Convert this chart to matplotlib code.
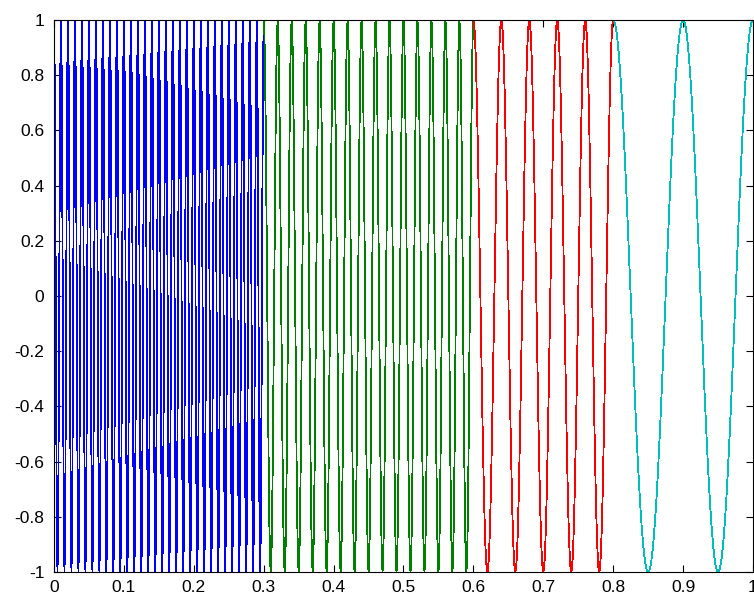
import numpy as np
import matplotlib
matplotlib.use("Agg")
import matplotlib.pyplot as plt
from matplotlib.ticker import FormatStrFormatter

# sample rate and piecewise segments (start, end, frequency in Hz)
fs = 1000
seg_start = [0.0, 0.3, 0.6, 0.8]
seg_end = [0.3, 0.6, 0.8, 1.0]
seg_freq = [100, 50, 25, 10]
seg_color = ['#0000ff', '#008000', '#ff0000', '#00bfbf']

xticks = [0, 0.1, 0.2, 0.3, 0.4, 0.5, 0.6, 0.7, 0.8, 0.9, 1]
yticks = [-1, -0.8, -0.6, -0.4, -0.2, 0, 0.2, 0.4, 0.6, 0.8, 1]

plt.rcParams['font.family'] = ['Liberation Sans', 'DejaVu Sans']
plt.rcParams['axes.unicode_minus'] = False

fig = plt.figure(figsize=(7.54, 5.98), dpi=100)
ax = fig.add_axes([54/754, (598-572)/598, (753-54)/754, (572-20)/598])

for a, b, f, c in zip(seg_start, seg_end, seg_freq, seg_color):
  n = int(round((b - a) * fs))
  t = a + np.arange(n + 1) / fs
  ax.plot(t, np.cos(2 * np.pi * f * t), color=c, linewidth=0.6, antialiased=False)

ax.set_xlim(0, 1)
ax.set_ylim(-1, 1)
ax.set_xticks(xticks)
ax.set_yticks(yticks)
ax.xaxis.set_major_formatter(FormatStrFormatter('%g'))
ax.yaxis.set_major_formatter(FormatStrFormatter('%g'))
ax.tick_params(direction='in', top=True, right=True, length=5, width=0.8, labelsize=12.5)
ax.tick_params(axis='x', pad=6)
ax.tick_params(axis='y', pad=7)
for s in ax.spines.values():
  s.set_linewidth(0.8)

plt.savefig('out.png', dpi=100)
